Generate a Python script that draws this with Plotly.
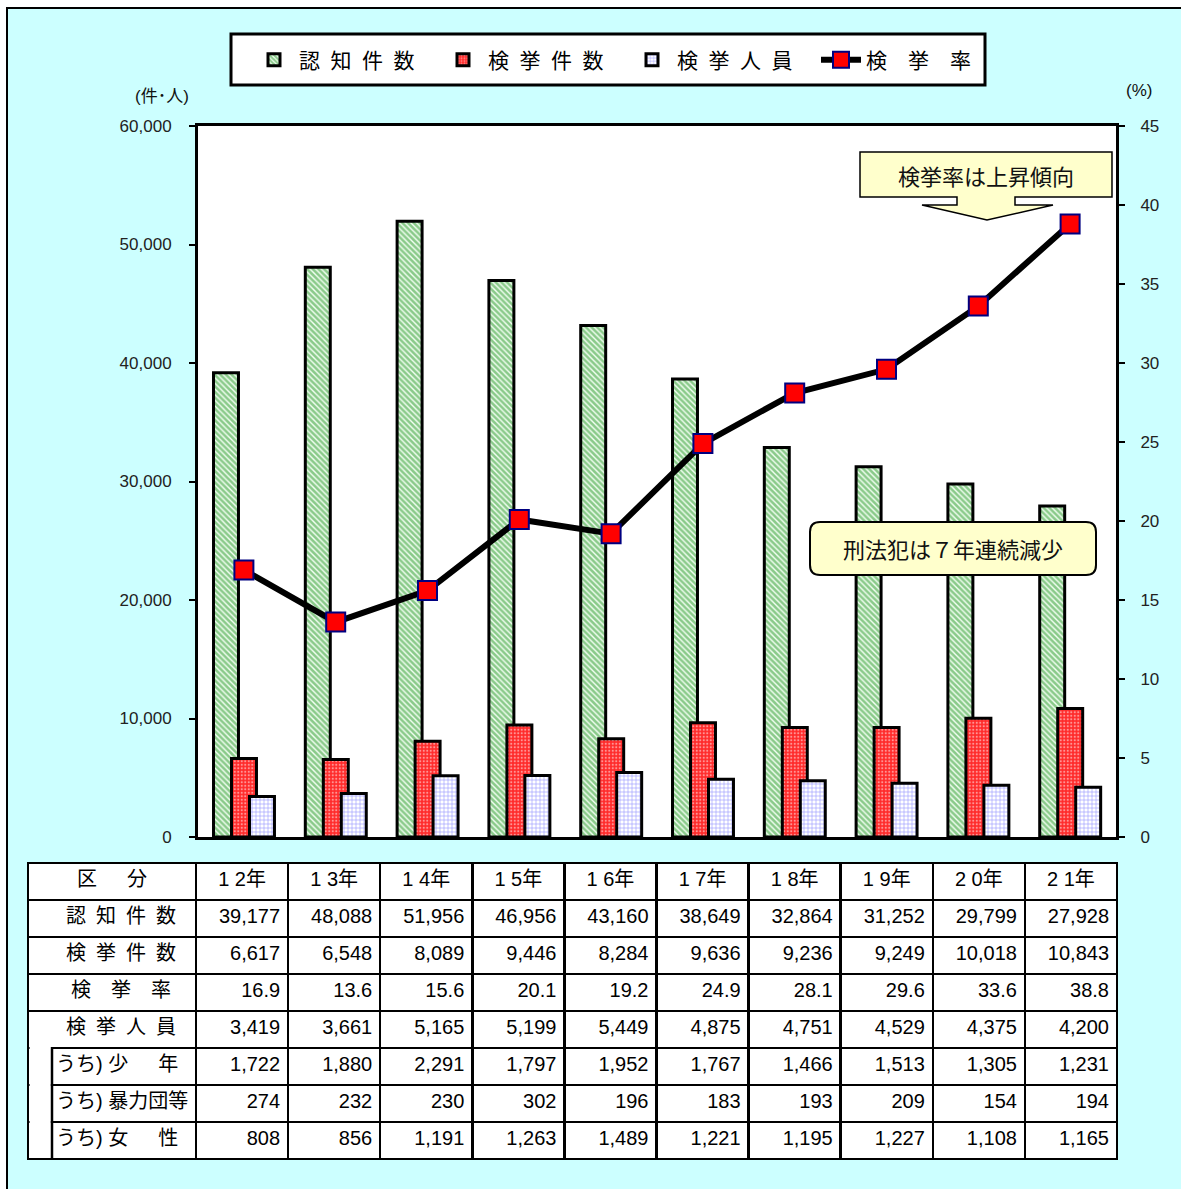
import plotly.graph_objects as go

# ---------------- data ----------------
years = ["12年", "13年", "14年", "15年", "16年", "17年", "18年", "19年", "20年", "21年"]
year_headers = ["1 2年", "1 3年", "1 4年", "1 5年", "1 6年", "1 7年", "1 8年", "1 9年", "2 0年", "2 1年"]
ninchi = [39177, 48088, 51956, 46956, 43160, 38649, 32864, 31252, 29799, 27928]      # 認知件数
kenkyo = [6617, 6548, 8089, 9446, 8284, 9636, 9236, 9249, 10018, 10843]            # 検挙件数
rate = [16.9, 13.6, 15.6, 20.1, 19.2, 24.9, 28.1, 29.6, 33.6, 38.8]                 # 検挙率
jinin = [3419, 3661, 5165, 5199, 5449, 4875, 4751, 4529, 4375, 4200]                # 検挙人員
shonen = [1722, 1880, 2291, 1797, 1952, 1767, 1466, 1513, 1305, 1231]               # うち少年
boryokudan = [274, 232, 230, 302, 196, 183, 193, 209, 154, 194]                     # うち暴力団等
josei = [808, 856, 1191, 1263, 1489, 1221, 1195, 1227, 1108, 1165]                  # うち女性

series_names = ["認\u2002知\u2002件\u2002数", "検\u2002挙\u2002件\u2002数",
                "検\u2002挙\u2002人\u2002員", "検\u3000挙\u3000率"]
row_labels = ["認\u2002知\u2002件\u2002数", "検\u2002挙\u2002件\u2002数", "検\u2003挙\u2003率",
              "検\u2002挙\u2002人\u2002員", "うち)\u00a0少\u3000\u2002年", "うち)\u00a0暴力団等",
              "うち)\u00a0女\u3000\u2002性"]
row_indent = ["\u3000\u2002", "\u3000\u2002", "\u3000\u2002\u2005", "\u3000\u2002",
              "\u3000", "\u3000", "\u3000"]
header_label = "区\u3000\u2002分"

# ---------------- geometry helpers ----------------
W, H = 1181, 1189
def px(x):
    return x / W
def py(y):
    return 1 - y / H

FONT = "Arial, 'Liberation Sans', 'Noto Sans CJK JP', sans-serif"
CJK = "'Noto Sans CJK JP', Arial, sans-serif"

fig = go.Figure()

bw = 0.272
fig.add_trace(go.Bar(
    x=years, y=ninchi, name=series_names[0], width=bw, offset=-0.331,
    marker=dict(color="white", line=dict(color="black", width=3),
                pattern=dict(shape="\\", fgcolor="#1f951f", bgcolor="#f4fff4", size=4, solidity=0.65)),
))
fig.add_trace(go.Bar(
    x=years, y=kenkyo, name=series_names[1], width=bw, offset=-0.135,
    marker=dict(color="red", line=dict(color="black", width=3),
                pattern=dict(shape=".", fgcolor="white", bgcolor="#ff2a2a", size=3.5, solidity=0.3)),
))
fig.add_trace(go.Bar(
    x=years, y=jinin, name=series_names[2], width=bw, offset=0.061,
    marker=dict(color="white", line=dict(color="black", width=3),
                pattern=dict(shape="+", fgcolor="#3a3aff", bgcolor="white", size=4, solidity=0.3)),
))
fig.add_trace(go.Scatter(
    x=years, y=rate, name=series_names[3], yaxis="y2", mode="lines+markers",
    line=dict(color="black", width=6),
    marker=dict(symbol="square", size=19, color="#ff0000", line=dict(color="#000080", width=2)),
))

# ---------------- table ----------------
cols = [[ind + t for ind, t in zip(row_indent, row_labels)]]
for j in range(len(years)):
    cols.append([f"{ninchi[j]:,}", f"{kenkyo[j]:,}", f"{rate[j]:.1f}", f"{jinin[j]:,}",
                 f"{shonen[j]:,}", f"{boryokudan[j]:,}", f"{josei[j]:,}"])

fig.add_trace(go.Table(
    domain=dict(x=[px(28), px(1117)], y=[py(1170), py(863)]),
    columnwidth=[168] + [92.1] * 10,
    header=dict(values=[header_label] + year_headers, height=37,
                align="center", fill_color="white",
                line=dict(color="black", width=2.5),
                font=dict(family=FONT, size=20, color="black")),
    cells=dict(values=cols, height=37,
               align=["left"] + ["right"] * 10, fill_color="white",
               line=dict(color="black", width=2.5),
               font=dict(family=FONT, size=20, color="black")),
))

# ---------------- shapes ----------------
shapes = []
shapes.append(dict(type="rect", xref="paper", yref="paper", layer="below",
                   x0=px(7), x1=px(1200), y0=py(1200), y1=py(8),
                   fillcolor="#ccffff", line=dict(color="black", width=2)))
shapes.append(dict(type="rect", xref="paper", yref="paper", layer="below",
                   x0=px(198), x1=px(1116), y0=py(837), y1=py(126),
                   fillcolor="white", line=dict(width=0)))
# legend frame
shapes.append(dict(type="rect", xref="paper", yref="paper", layer="above",
                   x0=px(231), x1=px(985), y0=py(85), y1=py(34),
                   fillcolor="white", line=dict(color="black", width=3)))
# merged label strip in table
shapes.append(dict(type="rect", xref="paper", yref="paper", layer="above",
                   x0=px(29.6), x1=px(50.8), y0=py(1125), y1=py(1047),
                   fillcolor="white", line=dict(width=0)))
shapes.append(dict(type="line", xref="paper", yref="paper", layer="above",
                   x0=px(52), x1=px(52), y0=py(1049), y1=py(1160),
                   line=dict(color="black", width=2.5)))

pts = [(860, 152), (1112, 152), (1112, 197), (1015, 197), (1015, 205), (1053, 205),
       (987, 220), (922, 205), (957, 205), (957, 197), (860, 197)]
path = "M " + " L ".join(f"{px(a):.5f},{py(b):.5f}" for a, b in pts) + " Z"
shapes.append(dict(type="path", xref="paper", yref="paper", layer="above", path=path,
                   fillcolor="#ffffcc", line=dict(color="black", width=1.5)))

x0, x1, y0, y1, r = 810, 1096, 522, 575, 10
rp = (f"M {px(x0+r)},{py(y0)} L {px(x1-r)},{py(y0)} Q {px(x1)},{py(y0)} {px(x1)},{py(y0+r)} "
      f"L {px(x1)},{py(y1-r)} Q {px(x1)},{py(y1)} {px(x1-r)},{py(y1)} "
      f"L {px(x0+r)},{py(y1)} Q {px(x0)},{py(y1)} {px(x0)},{py(y1-r)} "
      f"L {px(x0)},{py(y0+r)} Q {px(x0)},{py(y0)} {px(x0+r)},{py(y0)} Z")
shapes.append(dict(type="path", xref="paper", yref="paper", layer="above", path=rp,
                   fillcolor="#ffffcc", line=dict(color="black", width=2)))

def note(text, x, y, size, family):
    return dict(text=text, x=px(x), y=py(y), xref="paper", yref="paper", showarrow=False,
                xanchor="center", yanchor="middle", font=dict(family=family, size=size, color="#111"))

annotations = [
    note("(件･人)", 162, 96, 17, FONT),
    note("(%)", 1139, 90, 17, FONT),
    note("検挙率は上昇傾向", 986, 175, 22, CJK),
    note("刑法犯は７年連続減少", 953, 548, 22, CJK),
]

fig.update_layout(
    width=W, height=H,
    margin=dict(l=0, r=0, t=0, b=0, pad=0, autoexpand=False),
    paper_bgcolor="white",
    plot_bgcolor="rgba(0,0,0,0)",
    barmode="overlay",
    font=dict(family=FONT, size=17, color="#222"),
    shapes=shapes,
    annotations=annotations,
    showlegend=True,
    legend=dict(orientation="h", x=px(627), y=py(60), xanchor="center", yanchor="middle",
                bgcolor="rgba(0,0,0,0)", borderwidth=0,
                font=dict(family=CJK, size=21, color="black"),
                itemwidth=40, entrywidth=134, traceorder="normal"),
    xaxis=dict(domain=[px(198), px(1116)], range=[-0.5, len(years) - 0.5],
               showticklabels=False, ticks="",
               showline=True, linecolor="black", linewidth=3, mirror=True,
               showgrid=False, zeroline=False, fixedrange=True),
    yaxis=dict(domain=[py(837), py(126)], range=[0, 60000], dtick=10000, tickformat=",",
               showline=True, linecolor="black", linewidth=3, ticks="outside", ticklen=6,
               tickwidth=2, tickcolor="black", ticklabelstandoff=14,
               showgrid=False, zeroline=False,
               tickfont=dict(family=FONT, size=17, color="#222")),
    yaxis2=dict(overlaying="y", side="right", range=[0, 45], dtick=5,
                showline=True, linecolor="black", linewidth=3, ticks="outside", ticklen=6,
                tickwidth=2, tickcolor="black", ticklabelstandoff=12,
                showgrid=False, zeroline=False,
                tickfont=dict(family=FONT, size=17, color="#222")),
)

fig.write_html("out.html", config={"displayModeBar": False},
               post_script="document.body.style.margin='0';document.body.style.overflow='hidden';")
